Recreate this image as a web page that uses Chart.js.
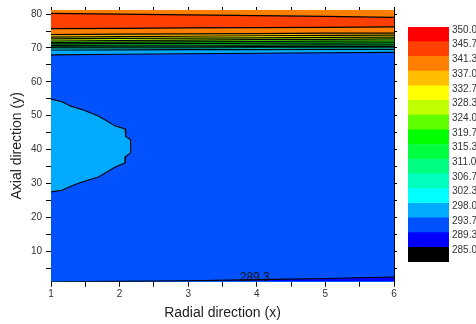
<!DOCTYPE html>
<html><head><meta charset="utf-8">
<script src="https://cdn.jsdelivr.net/npm/chart.js@4.4.1/dist/chart.umd.min.js"></script>
<style>
html,body{margin:0;padding:0;background:#fff;}
#wrap{position:relative;width:476px;height:324px;overflow:hidden;}
#main{position:absolute;left:0;top:0;}
#cbar{position:absolute;left:404px;top:0;}
</style></head><body>
<div id="wrap"><canvas id="main" width="476" height="324"></canvas><canvas id="cbar" width="72" height="324"></canvas></div>
<script>
// ---- data ----
const xs = [1, 2, 3, 4, 5, 6];
const levels = [350.0, 345.7, 341.3, 337.0, 332.7, 328.3, 324.0, 319.7, 315.3, 311.0, 306.7, 302.3, 298.0, 293.7, 289.3, 285.0];
const levelColors = ['#FF0000','#FF4000','#FF8000','#FFBF00','#FFFF00','#BFFF00','#60FF00','#00FF00','#00FF40','#00FF80','#00FFBF','#00FFFF','#00AAFF','#0052FF','#0000FF','#000000'];

// contour lines (y at each x in xs), bottom to top
const c289_3 = [1.0, 1.1, 1.3, 1.6, 1.95, 2.4];
const c293_7 = [67.95, 68.15, 68.3, 68.45, 68.6, 68.7];
const c298_0 = [69.4, 69.45, 69.5, 69.5, 69.55, 69.55];
const c302_3 = [70.0, 70.0, 70.0, 70.05, 70.05, 70.05];
const c306_7 = [70.3, 70.35, 70.35, 70.4, 70.45, 70.45];
const c311_0 = [70.75, 70.8, 70.8, 70.85, 70.9, 70.9];
const c315_3 = [71.2, 71.25, 71.3, 71.4, 71.45, 71.5];
const c319_7 = [71.6, 71.7, 71.8, 71.9, 72.0, 72.05];
const c324_0 = [72.05, 72.2, 72.3, 72.45, 72.55, 72.65];
const c328_3 = [72.65, 72.8, 72.9, 73.0, 73.1, 73.2];
const c332_7 = [73.2, 73.35, 73.45, 73.6, 73.7, 73.8];
const c337_0 = [73.95, 74.05, 74.15, 74.25, 74.35, 74.4];
const c341_3lo = [75.7, 75.8, 75.9, 76.0, 76.1, 76.2];
const c341_3hi = [80.2, 80.0, 79.75, 79.55, 79.3, 79.0];

// closed 298.0 contour on the left (warmer pocket)
const bulgeTopX = [1.0, 1.16, 1.28, 1.47, 1.69, 1.81, 1.93, 2.08, 2.09, 2.16];
const bulgeTopY = [54.9, 54.1, 52.9, 51.7, 49.9, 48.5, 47.0, 46.1, 43.9, 42.9];
const bulgeBotX = [2.16, 2.09, 2.08, 1.93, 1.69, 1.42, 1.28, 1.16, 1.0];
const bulgeBotY = [39.0, 38.0, 36.1, 34.8, 31.9, 30.2, 29.1, 28.0, 27.5];

const contourLabel = {level: 289.3, x: 3.97, y: 2.3};

// ---- build ----
const colorOf = lv => levelColors[levels.indexOf(lv)];
const pts = ys => xs.map((x, i) => ({x, y: ys[i]}));
const lineDs = (ys, fill, bg, bw) => ({data: pts(ys), fill, backgroundColor: bg, borderColor: '#000', borderWidth: bw === undefined ? 1.2 : bw, pointRadius: 0, tension: 0});

const bulgePts = bulgeTopX.map((x, i) => ({x, y: bulgeTopY[i]})).concat(bulgeBotX.map((x, i) => ({x, y: bulgeBotY[i]})));

// each contour fills down to the axis start with the colour of the band below it;
// lower contours are drawn over higher ones (reverse index drawing order)
const datasets = [
  {data: bulgePts, fill: 'shape', backgroundColor: colorOf(298.0), borderColor: '#000', borderWidth: 1.1, pointRadius: 0, tension: 0},
  lineDs(c289_3, 'start', colorOf(289.3), 1.1),
  lineDs(c293_7, 'start', colorOf(293.7), 1.1),
  lineDs(c298_0, 'start', colorOf(298.0)),
  lineDs(c302_3, 'start', colorOf(302.3)),
  lineDs(c306_7, 'start', colorOf(306.7)),
  lineDs(c311_0, 'start', colorOf(311.0)),
  lineDs(c315_3, 'start', colorOf(315.3)),
  lineDs(c319_7, 'start', colorOf(319.7)),
  lineDs(c324_0, 'start', colorOf(324.0)),
  lineDs(c328_3, 'start', colorOf(328.3)),
  lineDs(c332_7, 'start', colorOf(332.7)),
  lineDs(c337_0, 'start', colorOf(337.0)),
  lineDs(c341_3lo, 'start', colorOf(341.3), 1.3),
  lineDs(c341_3hi, 'start', colorOf(345.7), 1.3),
  lineDs(c341_3hi, 'end', colorOf(341.3), 0)
];

Chart.defaults.font.family = "'Liberation Sans', Arial, sans-serif";
Chart.defaults.color = '#333';

const labelPlugin = {
  id: 'contourLabel',
  afterDatasetsDraw(chart) {
    const {ctx, scales} = chart;
    ctx.save();
    ctx.font = "12px 'Liberation Sans', Arial, sans-serif";
    ctx.fillStyle = '#111';
    ctx.textAlign = 'center';
    ctx.textBaseline = 'middle';
    ctx.fillText(contourLabel.level.toFixed(1), scales.x.getPixelForValue(contourLabel.x), scales.y.getPixelForValue(contourLabel.y));
    ctx.restore();
  }
};

const sideAxis = (pos, isX) => ({
  type: 'linear', position: pos,
  min: 1, max: isX ? 6 : 81.2,
  ticks: {display: false, stepSize: isX ? 0.5 : 5, includeBounds: false},
  grid: {drawOnChartArea: false, tickLength: 3, color: '#000'},
  border: {display: true, color: '#000', width: 1},
  afterFit: s => { if (isX) s.height = 3; else s.width = 3; }
});

new Chart(document.getElementById('main'), {
  type: 'line',
  data: {datasets},
  options: {
    responsive: false, animation: false, events: [],
    layout: {padding: {top: 4.3, right: 79, bottom: 0, left: 0}},
    plugins: {legend: {display: false}, tooltip: {enabled: false}, filler: {drawTime: 'beforeDatasetsDraw', propagate: false}},
    scales: {
      x: {
        type: 'linear', position: 'bottom', min: 1, max: 6,
        ticks: {stepSize: 0.5, includeBounds: false, autoSkip: false, maxRotation: 0, padding: 2, color: '#333', font: {size: 10},
                callback: v => Number.isInteger(v) ? String(v) : ''},
        grid: {drawOnChartArea: false, tickLength: 5, color: '#000'},
        border: {display: true, color: '#000', width: 1},
        title: {display: true, text: 'Radial direction (x)', font: {size: 14}, color: '#222', padding: {top: 0, bottom: 2}},
        afterFit: s => { s.height = 42.3; }
      },
      x2: sideAxis('top', true),
      y: {
        type: 'linear', position: 'left', min: 1, max: 81.2,
        ticks: {stepSize: 5, includeBounds: false, autoSkip: false, padding: 4, color: '#333', font: {size: 10},
                callback: v => (v % 10 === 0) ? String(v) : ''},
        grid: {drawOnChartArea: false, tickLength: 5, color: '#000'},
        border: {display: true, color: '#000', width: 1},
        title: {display: true, text: 'Axial direction (y)', font: {size: 14}, color: '#222', padding: {top: 9, bottom: 0}},
        afterFit: s => { s.width = 51; }
      },
      y2: sideAxis('right', false)
    }
  },
  plugins: [labelPlugin]
});

// ---- colour bar ----
const cbDatasets = levels.map((lv, i) => ({label: String(lv), data: [1], backgroundColor: levelColors[i], borderWidth: 0, barPercentage: 1, categoryPercentage: 1})).reverse();
new Chart(document.getElementById('cbar'), {
  type: 'bar',
  data: {labels: ['T'], datasets: cbDatasets},
  options: {
    responsive: false, animation: false, events: [],
    layout: {padding: {top: 27, bottom: 62, left: 4, right: 0}},
    plugins: {legend: {display: false}, tooltip: {enabled: false}},
    scales: {
      x: {display: false, stacked: true},
      y: {
        stacked: true, position: 'right', min: 0, max: levels.length,
        grid: {display: false, drawTicks: false}, border: {display: false},
        ticks: {stepSize: 1, autoSkip: false, padding: 3, labelOffset: 3, color: '#333', font: {size: 10},
                callback: v => v >= 1 ? levels[levels.length - v].toFixed(1) : ''},
        afterFit: s => { s.width = 27; }
      }
    }
  }
});
</script>
</body></html>
